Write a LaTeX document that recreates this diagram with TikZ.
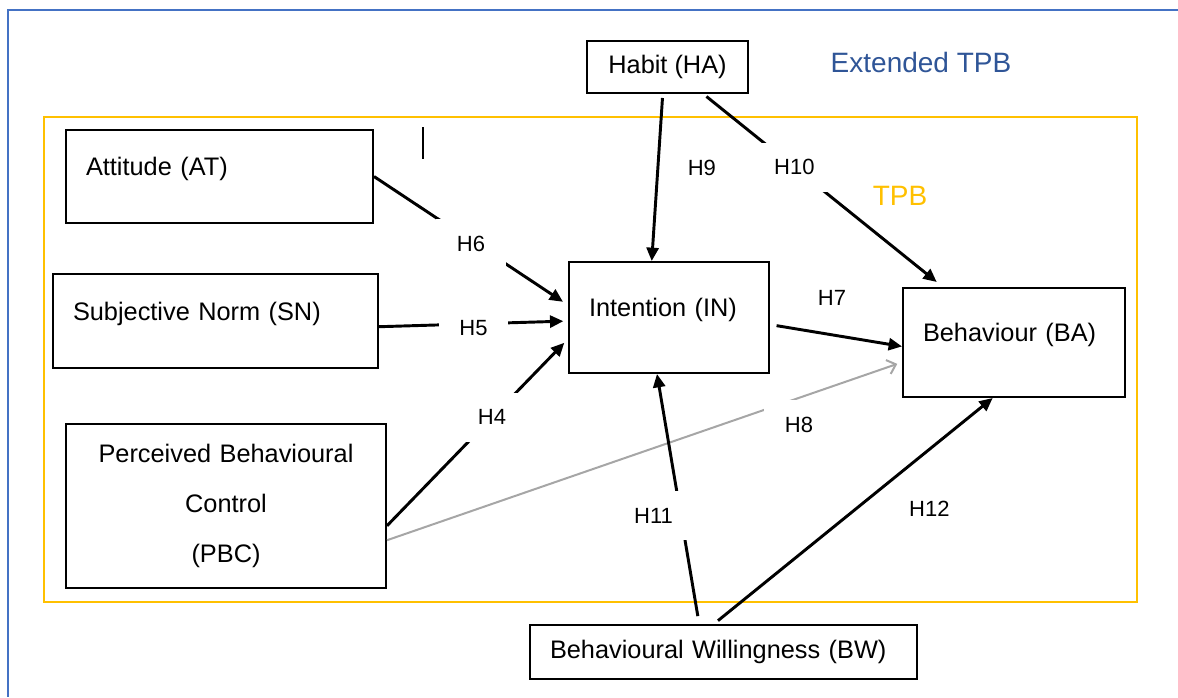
\documentclass[tikz,border=0pt]{standalone}
\usepackage{fontspec}
\setmainfont{Liberation Sans}
\usepackage{tikz}
\usetikzlibrary{arrows.meta}

\definecolor{tpbgold}{HTML}{FFC000}
\definecolor{extblue}{HTML}{4472C4}
\definecolor{exttext}{HTML}{2F5597}
\definecolor{pathgray}{HTML}{A6A6A6}

\begin{document}
\begin{tikzpicture}[x=0.75pt,y=-0.75pt,
    box/.style={draw, line width=1.5pt, inner xsep=15pt, inner ysep=0pt, align=left, font=\fontsize{19}{23}\selectfont},
    raised/.style={text depth=15pt},
    hyp/.style={line width=2.2pt, -{Triangle[length=10pt,width=9pt]}},
    hlbl/.style={fill=white, text=black, inner sep=0pt, minimum width=52pt, minimum height=37pt, font=\fontsize{16.5}{20}\selectfont}]
\useasboundingbox (0,0) rectangle (1178,697);

% Draw the frames of the extended TPB and the TPB.
\draw[line width=1.5pt,color=extblue] (1178,10) -- (8,10) -- (8,697);
\draw[line width=1.5pt,color=tpbgold] (44,117) rectangle (1137,602);
\node[text=exttext,font=\fontsize{21}{25}\selectfont] (ext) at (921,62) {Extended TPB};
\node[text=tpbgold,font=\fontsize{21}{25}\selectfont] (tpb) at (900,196) {TPB};
\draw[line width=1pt] (423,127) -- (423,159);

% Constructs
\node[box, raised, text width=200.25pt, minimum height=69.75pt] (att) at (219.5,176.5) {Attitude (AT)};
\node[box, raised, text width=213.75pt, minimum height=70.5pt] (sn) at (215.5,321) {Subjective Norm (SN)};
\node[box, align=center, text width=210pt, minimum height=123pt, font=\fontsize{19}{37.5}\selectfont] (pbc) at (226,506) {Perceived Behavioural\\Control\\(PBC)};
\node[box, raised, text width=120pt, minimum height=83.25pt] (int) at (669,317.5) {Intention (IN)};
\node[box, raised, text width=136.5pt, minimum height=81.75pt] (beh) at (1014,342.5) {Behaviour (BA)};
\node[box, minimum width=120.75pt, minimum height=39pt] (hab) at (667.5,67) {Habit (HA)};
\node[box, text width=260.25pt, minimum height=40.5pt] (bw) at (723.5,652) {Behavioural Willingness (BW)};

% Draw hypotheses H4 - H6.
\draw[hyp, shorten >=4.5pt] (att.east) -- node[hlbl, pos=0.5, yshift=-2pt] (h6) {H6} (int.173);
\draw[hyp, shorten >=3.5pt] (sn.-2) -- node[hlbl, pos=0.5, yshift=-3pt] (h5) {H5} (int.182);
\draw[hyp, shorten >=4pt] (pbc.-7) -- node[hlbl, pos=0.58] (h4) {H4} (int.192);

% H7, H8 to behaviour
\draw[hyp, shorten <=5pt] (int.-4) -- node[hlbl, pos=0.47, yshift=27.5pt] (h7) {H7} (beh.182);
\draw[line width=1.5pt, color=pathgray, -{Straight Barb[length=6pt,width=11pt]}, shorten >=3.75pt] (pbc.-12) -- node[hlbl, pos=0.8, yshift=-20pt] (h8) {H8} (beh.190);

% Habit and willingness
\draw[hyp, shorten <=3pt] (hab.-100) -- node[hlbl, pos=0.44, xshift=33pt] (h9) {H9} (int.107);
\draw[hyp, shorten <=3pt, shorten >=6pt] (hab.-37) -- node[hlbl, pos=0.38] (h10) {H10} (beh.142);
\draw[hyp, shorten <=6pt] (bw.131) -- node[hlbl, pos=0.433, xshift=-20.5pt] (h11) {H11} (int.-102);
\draw[hyp, shorten <=4pt] (bw.109) -- node[hlbl, pos=0.51, xshift=55pt] (h12) {H12} (beh.-111);
\end{tikzpicture}
\end{document}
